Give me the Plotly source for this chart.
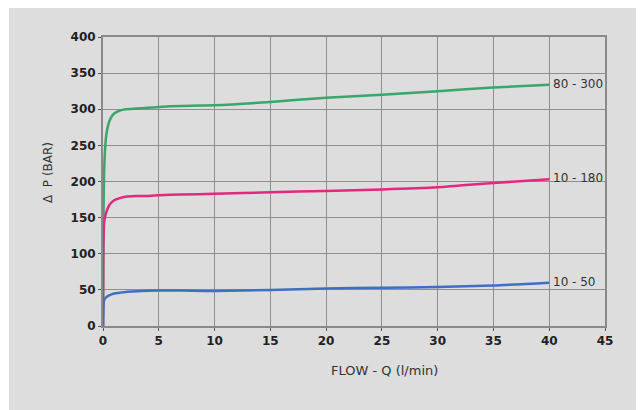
import plotly.graph_objects as go

# Data
flow_green = [0, 0.05, 0.1, 0.2, 0.3, 0.5, 0.7, 1.0, 1.5, 2.0, 3.0, 4.0, 5.0, 6.0, 8.0, 10.0, 15.0, 20.0, 25.0, 30.0, 35.0, 40.0]
dp_green = [0, 160, 215, 248, 265, 280, 288, 294, 298, 300, 301, 302, 303, 304, 305, 305.5, 310, 316, 320, 325, 330, 334]

flow_pink = [0, 0.02, 0.05, 0.1, 0.2, 0.4, 0.6, 1.0, 1.5, 2.0, 3.0, 4.0, 5.0, 7.0, 10.0, 15.0, 20.0, 25.0, 30.0, 35.0, 40.0]
dp_pink = [0, 90, 125, 143, 152, 162, 168, 174, 177, 179, 180, 180, 181, 182, 183, 185, 187, 189, 192, 198, 203]

flow_blue = [0, 0.05, 0.1, 0.3, 0.5, 1.0, 1.5, 2.0, 3.0, 5.0, 7.0, 10.0, 15.0, 20.0, 25.0, 30.0, 35.0, 40.0]
dp_blue = [0, 30, 36, 40, 42, 45, 46, 47, 48, 49, 49, 48.5, 50, 52, 53, 54, 56, 60]

series_names = ["80 - 300", "10 - 180", "10 - 50"]
series_colors = ["#3aa66b", "#e2287f", "#3e6fc0"]

x_ticks = [0, 5, 10, 15, 20, 25, 30, 35, 40, 45]
y_ticks = [0, 50, 100, 150, 200, 250, 300, 350, 400]

fig = go.Figure()
for fx, fy, name, col in zip([flow_green, flow_pink, flow_blue], [dp_green, dp_pink, dp_blue], series_names, series_colors):
    fig.add_trace(go.Scatter(x=fx, y=fy, mode="lines", name=name,
                             line=dict(color=col, width=2.5, shape="spline", smoothing=0.6),
                             showlegend=False))
    fig.add_annotation(x=fx[-1], y=fy[-1], text=name, showarrow=False,
                       xanchor="left", yanchor="middle", xshift=2, yshift=1,
                       font=dict(family="DejaVu Sans", size=12, color="#333333"))

# page body adds an 8px offset, so the figure is slightly smaller than the window
W, H = 636, 402
L, R, T, B = 95, 39, 29, 84
pw, ph = W - L - R, H - T - B

def px_x(p):
    return (p - L) / pw

def px_y(p):
    return (H - B - p) / ph

fig.add_shape(type="rect", xref="paper", yref="paper",
              x0=px_x(1), x1=px_x(W + 2), y0=px_y(H + 2), y1=px_y(-2),
              fillcolor="#dcdddc", line=dict(width=0), layer="below")

# axis titles placed as in the picture
fig.add_annotation(xref="x", yref="paper", x=25.2, y=px_y(362), text="FLOW - Q (l/min)",
                   showarrow=False, xanchor="center", yanchor="middle",
                   font=dict(family="DejaVu Sans", size=13, color="#333333"))
fig.add_annotation(xref="paper", yref="paper", x=px_x(40), y=px_y(165), text="Δ  P (BAR)",
                   textangle=-90, showarrow=False, xanchor="center", yanchor="middle",
                   font=dict(family="DejaVu Sans", size=12, color="#333333"))

fig.update_layout(
    width=W, height=H,
    margin=dict(l=L, r=R, t=T, b=B),
    paper_bgcolor="white",
    plot_bgcolor="#dcdddc",
    font=dict(family="DejaVu Sans", color="#222222"),
    xaxis=dict(range=[0, 45], tickvals=x_ticks, showgrid=True, gridcolor="#8f8f8f", gridwidth=1,
               zeroline=False, showline=True, linecolor="#8a8a8a", linewidth=2, mirror=True,
               ticks="outside", ticklen=3, tickcolor="#555555",
               tickfont=dict(size=12, family="DejaVu Sans", weight="bold", color="#222222")),
    yaxis=dict(range=[0, 400], tickvals=y_ticks, showgrid=True, gridcolor="#8f8f8f", gridwidth=1,
               zeroline=False, showline=True, linecolor="#8a8a8a", linewidth=2, mirror=True,
               ticks="outside", ticklen=3, tickcolor="#555555",
               tickfont=dict(size=12, family="DejaVu Sans", weight="bold", color="#222222")),
)

fig.write_html("out.html")
